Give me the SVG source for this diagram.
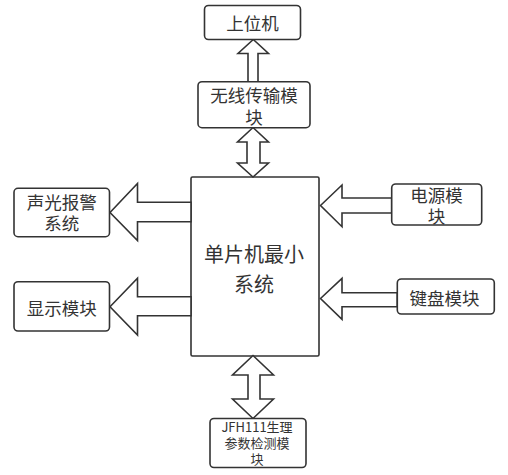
<svg xmlns="http://www.w3.org/2000/svg" width="508" height="475" viewBox="0 0 508 475">
<style>
.box{fill:#fff;stroke:#333;stroke-width:1.6}
.arr{fill:#fff;stroke:#333;stroke-width:1.6;stroke-linejoin:miter}
.t{font-family:"Noto Sans CJK SC","Noto Sans",sans-serif;font-size:17.5px;fill:#333;text-anchor:middle}
.s{font-size:13px}
.m{font-size:20px}
</style>
<rect width="508" height="475" fill="#fff"/>
<g id="main">
<rect class="box" x="191" y="177" width="128" height="179" rx="1.5"/>
<text class="t m" x="254" y="261.5">单片机最小</text>
<text class="t m" x="254" y="291.5">系统</text>
</g>
<g id="connectors">
<polygon class="arr" points="253.3,39.5 268.5,53.5 258,53.5 258,81.7 248,81.7 248,53.5 238,53.5"/>
<polygon class="arr" points="253,127.5 268.5,142 260,142 260,163 268.5,163 253,177 237.5,163 247,163 247,142 237.5,142"/>
<polygon class="arr" points="253,355.5 273.5,375 260,375 260,399 273.5,399 253,418.5 232.5,399 248,399 248,375 232.5,375"/>
<polygon class="arr" points="110,212.5 137.5,183.5 137.5,202.3 191,202.3 191,221.7 137.5,221.7 137.5,240.5"/>
<polygon class="arr" points="110,306.7 137.5,278.3 137.5,296.7 191,296.7 191,315.7 137.5,315.7 137.5,335"/>
<polygon class="arr" points="320.5,205.5 342,185 342,198 391.7,198 391.7,213 342,213 342,226.7"/>
<polygon class="arr" points="320.5,298.5 342,278.3 342,292.7 397.3,292.7 397.3,306.7 342,306.7 342,319.3"/>
</g>
<g id="host">
<rect class="box" x="204.5" y="5.5" width="96" height="34" rx="4"/>
<text class="t" x="252.5" y="30">上位机</text>
</g>
<g id="wireless">
<rect class="box" x="198" y="81.7" width="112" height="46" rx="4"/>
<text class="t" x="254" y="102">无线传输模</text>
<text class="t" x="254" y="123.5">块</text>
</g>
<g id="alarm">
<rect class="box" x="14" y="188.3" width="95.5" height="48.4" rx="4"/>
<text class="t" x="61.7" y="208.5">声光报警</text>
<text class="t" x="61.7" y="230">系统</text>
</g>
<g id="display">
<rect class="box" x="14" y="281.7" width="95.5" height="49.3" rx="4"/>
<text class="t" x="61.7" y="315">显示模块</text>
</g>
<g id="power">
<rect class="box" x="391.7" y="184" width="90" height="41" rx="4"/>
<text class="t" x="436.5" y="201.5">电源模</text>
<text class="t" x="436.5" y="223">块</text>
</g>
<g id="keyboard">
<rect class="box" x="397.3" y="279" width="97" height="35" rx="4"/>
<text class="t" x="444.5" y="304.5">键盘模块</text>
</g>
<g id="sensor">
<rect class="box" x="210" y="418.5" width="96" height="49" rx="4"/>
<text class="t s" x="257" y="432">JFH111生理</text>
<text class="t s" x="257" y="448">参数检测模</text>
<text class="t s" x="257" y="464">块</text>
</g>
</svg>
